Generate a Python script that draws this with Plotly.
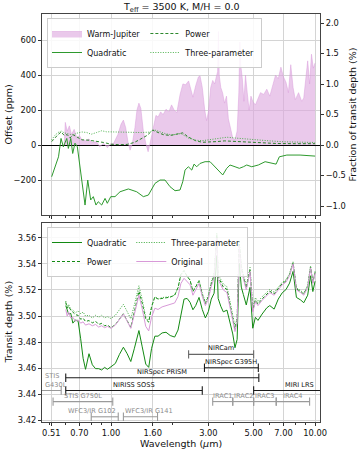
import math
import plotly.graph_objects as go

# ---------------- data ----------------
# top panel: Warm-Jupiter spectral signal (ppm)
WJ_WL = [0.590, 0.597, 0.610, 0.625, 0.640, 0.660, 0.680, 0.700, 0.720, 0.750, 0.780, 0.810,
         0.850, 0.880, 0.920, 0.960, 0.990, 1.030, 1.080, 1.120, 1.150, 1.180, 1.210, 1.240,
         1.270, 1.310, 1.340, 1.370, 1.400, 1.440, 1.480, 1.520, 1.560, 1.620, 1.660, 1.700,
         1.750, 1.800, 1.860, 1.920, 1.980, 2.040, 2.100, 2.180, 2.250, 2.320, 2.400, 2.460,
         2.520, 2.600, 2.680, 2.730, 2.800, 2.880, 2.940, 3.000, 3.080, 3.150, 3.220, 3.280,
         3.330, 3.360, 3.390, 3.450, 3.520, 3.600, 3.680, 3.760, 3.850, 3.950, 4.050, 4.150,
         4.230, 4.280, 4.330, 4.400, 4.480, 4.560, 4.650, 4.750, 4.850, 4.950, 5.100, 5.250,
         5.400, 5.600, 5.800, 6.000, 6.200, 6.400, 6.600, 6.800, 7.000, 7.200, 7.400, 7.600,
         7.800, 8.000, 8.300, 8.600, 8.800, 9.000, 9.200, 9.400, 9.600, 9.800, 10.00]
WJ_PPM = [0, 130, 80, 110, 60, 90, 40, 55, 30, 25, 35, 15,
          20, -10, 10, -15, 5, 10, 60, 120, 143, 100, 20, -29,
          5, 100, 200, 240, 210, 80, 10, -38, 20, 120, 170, 160,
          190, 175, 205, 190, 230, 200, 185, 290, 350, 345, 367, 320,
          274, 340, 390, 396, 330, 200, 140, 190, 330, 370, 350, 390,
          420, 650, 400, 330, 300, 240, 280, 150, 90, 40, 30, 80,
          300, 590, 450, 380, 250, 400, 300, 200, 280, 250, 230, 270,
          300, 290, 320, 280, 350, 400, 380, 446, 390, 360, 300, 460,
          330, 260, 300, 250, 270, 380, 482, 350, 520, 440, 470]

# top panel: offsets relative to the original transit depth (ppm)
QUAD_WL = [0.512, 0.553, 0.569, 0.584, 0.607, 0.618, 0.635, 0.649, 0.666, 0.684, 0.746, 0.769,
           0.795, 0.819, 0.844, 0.866, 0.900, 0.935, 0.959, 0.997, 1.046, 1.107, 1.216, 1.336,
           1.440, 1.524, 1.643, 1.738, 1.839, 1.946, 2.059, 2.178, 2.246, 2.306, 2.393, 2.487,
           2.552, 2.630, 2.730, 2.890, 3.057, 3.297, 3.528, 3.690, 3.830, 4.053, 4.254, 4.452,
           4.624, 4.894, 5.270, 5.690, 6.130, 6.440, 6.680, 7.270, 8.440, 10.00]
QUAD_OFF = [-181, -67, 38, -10, 38, -19, 38, -48, 11, -10, -343, -200,
            -314, -295, -343, -324, -343, -305, -333, -295, -295, -267, -251, -267,
            -295, -286, -219, -200, -200, -238, -261, -257, -210, -143, -124, -143,
            -109, -124, -105, -95, -95, -133, -171, -133, -114, -124, -133, -124,
            -114, -124, -114, -95, -105, -109, -67, -57, -57, -63]

POW_WL = [0.512, 0.53, 0.55, 0.57, 0.59, 0.61, 0.63, 0.65, 0.68, 0.72, 0.78, 0.85, 0.92, 1.0,
          1.1, 1.2, 1.3, 1.4, 1.5, 1.6, 1.7, 1.8, 1.95, 2.1, 2.25, 2.4, 2.6, 2.8, 3.0, 3.3,
          3.6, 3.9, 4.3, 4.8, 5.5, 6.5, 8.0, 10.0]
POW_OFF = [20, 40, 60, 75, 55, 60, 40, 60, 45, 30, 28, 22, 15, 5,
           2, 4, 15, 35, 55, 85, 70, 60, 55, 65, 70, 45, 25, 16, 17, 20,
           24, 22, 17, 13, 11, 9, 8, 8]

THREE_WL = [0.512, 0.53, 0.55, 0.57, 0.59, 0.62, 0.65, 0.68, 0.72, 0.76, 0.8, 0.85, 0.9, 0.95,
            1.0, 1.2, 1.4, 1.55, 1.62, 1.7, 1.85, 2.0, 2.2, 2.4, 2.6, 2.8, 3.0, 3.3, 3.7, 4.1,
            4.6, 5.2, 6.0, 7.0, 8.5, 10.0]
THREE_OFF = [30, 55, 72, 80, 70, 62, 58, 68, 75, 72, 62, 72, 82, 76,
             75, 74, 72, 74, 88, 80, 65, 58, 66, 40, 28, 25, 30, 38, 45, 40,
             34, 30, 24, 19, 16, 15]

# bottom panel: transit depth (%)
WL = [0.600, 0.610, 0.620, 0.635, 0.650, 0.670, 0.690, 0.710, 0.730, 0.750, 0.780, 0.810,
      0.840, 0.870, 0.900, 0.930, 0.960, 1.000, 1.050, 1.100, 1.150, 1.200, 1.250, 1.300,
      1.370, 1.420, 1.480, 1.530, 1.580, 1.640, 1.700, 1.780, 1.860, 1.950, 2.050, 2.130,
      2.200, 2.280, 2.360, 2.440, 2.520, 2.600, 2.700, 2.800, 2.900, 3.000, 3.100, 3.200,
      3.300, 3.350, 3.450, 3.550, 3.700, 3.850, 3.950, 4.050, 4.150, 4.250, 4.350, 4.450,
      4.600, 4.800, 4.950, 5.100, 5.250, 5.500, 5.800, 6.000, 6.300, 6.600, 6.900, 7.200,
      7.500, 7.800, 8.100, 8.500, 8.800, 9.200, 9.500, 9.750, 10.00]
ORIGINAL = [3.5050, 3.5000, 3.5030, 3.4985, 3.4990, 3.4960, 3.4970, 3.4945, 3.4955, 3.4930, 3.4940, 3.4925,
            3.4935, 3.4915, 3.4925, 3.4910, 3.4920, 3.4905, 3.4930, 3.4975, 3.5015, 3.4960, 3.4905, 3.5010,
            3.5160, 3.5060, 3.4920, 3.4885, 3.4990, 3.5060, 3.5050, 3.5070, 3.5080, 3.5090, 3.5100, 3.5150,
            3.5250, 3.5290, 3.5260, 3.5240, 3.5160, 3.5200, 3.5250, 3.5150, 3.5080, 3.5130, 3.5230, 3.5290,
            3.5600, 3.5280, 3.5240, 3.5200, 3.5180, 3.5050, 3.4980, 3.4880, 3.4950, 3.5540, 3.5350, 3.5290,
            3.5200, 3.5340, 3.5030, 3.5110, 3.5080, 3.5120, 3.5160, 3.5180, 3.5160, 3.5200, 3.5240, 3.5260,
            3.5310, 3.5400, 3.5200, 3.5180, 3.5160, 3.5220, 3.5370, 3.5250, 3.5330]
POWER = [3.5105, 3.5060, 3.5075, 3.5045, 3.5030, 3.5010, 3.5005, 3.4975, 3.4983, 3.4958, 3.4965, 3.4947,
         3.4960, 3.4935, 3.4943, 3.4925, 3.4930, 3.4910, 3.4933, 3.4977, 3.5017, 3.4964, 3.4913, 3.5028,
         3.5190, 3.5102, 3.4975, 3.4953, 3.5070, 3.5148, 3.5130, 3.5135, 3.5138, 3.5145, 3.5160, 3.5218,
         3.5320, 3.5350, 3.5305, 3.5275, 3.5188, 3.5222, 3.5268, 3.5166, 3.5095, 3.5146, 3.5247, 3.5308,
         3.5619, 3.5300, 3.5262, 3.5223, 3.5204, 3.5073, 3.5002, 3.4900, 3.4969, 3.5558, 3.5367, 3.5306,
         3.5215, 3.5354, 3.5043, 3.5122, 3.5092, 3.5131, 3.5171, 3.5190, 3.5170, 3.5210, 3.5249, 3.5269,
         3.5319, 3.5409, 3.5208, 3.5188, 3.5168, 3.5228, 3.5378, 3.5258, 3.5338]
THREE_PARAM = [3.5115, 3.5068, 3.5090, 3.5047, 3.5045, 3.5025, 3.5040, 3.5017, 3.5030, 3.5000, 3.5005, 3.4985,
               3.5005, 3.4990, 3.5005, 3.4985, 3.4995, 3.4980, 3.5005, 3.5050, 3.5090, 3.5034, 3.4978, 3.5082,
               3.5232, 3.5131, 3.4990, 3.4957, 3.5070, 3.5145, 3.5130, 3.5142, 3.5145, 3.5148, 3.5160, 3.5215,
               3.5316, 3.5345, 3.5305, 3.5278, 3.5192, 3.5228, 3.5275, 3.5175, 3.5107, 3.5160, 3.5263, 3.5326,
               3.5638, 3.5320, 3.5283, 3.5245, 3.5225, 3.5094, 3.5022, 3.4920, 3.4988, 3.5577, 3.5386, 3.5325,
               3.5234, 3.5373, 3.5062, 3.5141, 3.5110, 3.5148, 3.5186, 3.5204, 3.5182, 3.5220, 3.5259, 3.5278,
               3.5327, 3.5416, 3.5216, 3.5195, 3.5175, 3.5235, 3.5385, 3.5265, 3.5345]
QUADRATIC = [3.5080, 3.5038, 3.5015, 3.5020, 3.4945, 3.4970, 3.4960, 3.4825, 3.4675, 3.4590, 3.4710, 3.4625,
             3.4595, 3.4595, 3.4585, 3.4605, 3.4590, 3.4610, 3.4635, 3.4705, 3.4760, 3.4710, 3.4650, 3.4748,
             3.4888, 3.4768, 3.4630, 3.4605, 3.4750, 3.4845, 3.4845, 3.4870, 3.4875, 3.4850, 3.4838, 3.4892,
             3.5005, 3.5130, 3.5135, 3.5105, 3.5048, 3.5080, 3.5143, 3.5050, 3.4985, 3.5035, 3.5130, 3.5175,
             3.5465, 3.5135, 3.5075, 3.5032, 3.5045, 3.4936, 3.4862, 3.4756, 3.4820, 3.5407, 3.5222, 3.5166,
             3.5085, 3.5220, 3.4906, 3.4990, 3.4966, 3.5015, 3.5063, 3.5080, 3.5053, 3.5130, 3.5178, 3.5203,
             3.5253, 3.5343, 3.5143, 3.5123, 3.5102, 3.5160, 3.5309, 3.5188, 3.5267]

# instrument coverage (µm) and the row (transit depth %) where each bar sits
INST_NAMES = ["NIRCam", "NIRSpec G395H", "NIRSpec PRISM", "NIRISS SOSS", "MIRI LRS",
              "STIS<br>G430L", "STIS G750L", "IRAC1", "IRAC2", "IRAC3", "IRAC4",
              "WFC3/IR G102", "WFC3/IR G141"]
INST_LO = [2.4, 2.87, 0.6, 0.6, 5.0, 0.29, 0.52, 3.15, 3.95, 5.0, 6.45, 0.80, 1.15]
INST_HI = [5.0, 5.27, 5.3, 2.8, 14.0, 0.57, 1.02, 3.95, 5.0, 6.45, 9.4, 1.085, 1.69]
INST_ROW = [3.4705, 3.4602, 3.4525, 3.4427, 3.4427, 3.4427, 3.4342, 3.4342, 3.4342, 3.4342, 3.4342,
            3.4225, 3.4225]
INST_JWST = [True, True, True, True, True, False, False, False, False, False, False, False, False]

XTICKS = [0.51, 0.70, 1.00, 1.60, 3.00, 5.00, 7.00, 10.00]
XMINOR = [0.5, 0.6, 0.8, 0.9, 2, 4, 6, 8, 9]
DEPTH_PPM = 34900  # original transit depth, for the right-hand axis

FONT = "DejaVu Sans"
GREEN = "#138a13"
GREEN_LIGHT = "#3caa3c"
PINK = "#d89ad8"
GRID = "#d4d4d4"

# plot box in pixels (figure is 360 x 451)
L, R, T, B = 42, 40, 14, 29
PW, PH = 360 - L - R, 451 - T - B


def px_x(px):
    return (px - L) / PW


def px_y(py):
    return (451 - B - py) / PH


fig = go.Figure()

# ---- top panel ----
fig.add_trace(go.Scatter(x=WJ_WL, y=WJ_PPM, mode="lines", name="Warm-Jupiter",
                         line=dict(color="rgba(214,150,216,0.75)", width=0.6),
                         fill="tozeroy", fillcolor="rgba(220,165,222,0.6)",
                         legend="legend", legendgroup="tA", xaxis="x", yaxis="y"))
fig.add_trace(go.Scatter(x=QUAD_WL, y=QUAD_OFF, mode="lines", name="Quadratic",
                         line=dict(color="#2e9a2e", width=1),
                         legend="legend", legendgroup="tA", xaxis="x", yaxis="y"))
fig.add_trace(go.Scatter(x=POW_WL, y=POW_OFF, mode="lines", name="Power",
                         line=dict(color="#157a15", width=0.9, dash="3px,2px"),
                         legend="legend", legendgroup="tB", xaxis="x", yaxis="y"))
fig.add_trace(go.Scatter(x=THREE_WL, y=THREE_OFF, mode="lines", name="Three-parameter",
                         line=dict(color=GREEN_LIGHT, width=0.9, dash="1px,1.5px"),
                         legend="legend", legendgroup="tB", xaxis="x", yaxis="y"))
# the right-hand axis is the same offset expressed as a fraction of the depth;
# an invisible copy on y2 makes plotly draw that axis
fig.add_trace(go.Scatter(x=QUAD_WL, y=[v / DEPTH_PPM * 100 for v in QUAD_OFF], mode="lines",
                         line=dict(width=0), opacity=0, showlegend=False, hoverinfo="skip",
                         xaxis="x", yaxis="y2"))

# ---- bottom panel ----
fig.add_trace(go.Scatter(x=WL, y=QUADRATIC, mode="lines", name="Quadratic",
                         line=dict(color=GREEN, width=1),
                         legend="legend2", legendgroup="bA", xaxis="x2", yaxis="y3"))
fig.add_trace(go.Scatter(x=WL, y=POWER, mode="lines", name="Power",
                         line=dict(color=GREEN, width=1, dash="3px,2px"),
                         legend="legend2", legendgroup="bA", xaxis="x2", yaxis="y3"))
fig.add_trace(go.Scatter(x=WL, y=THREE_PARAM, mode="lines", name="Three-parameter",
                         line=dict(color=GREEN_LIGHT, width=1, dash="1px,1.5px"),
                         legend="legend2", legendgroup="bB", xaxis="x2", yaxis="y3"))
fig.add_trace(go.Scatter(x=WL, y=ORIGINAL, mode="lines", name="Original",
                         line=dict(color=PINK, width=1),
                         legend="legend2", legendgroup="bB", xaxis="x2", yaxis="y3"))

# instrument coverage bars with end caps
annotations = []
for name, lo, hi, row, jwst in zip(INST_NAMES, INST_LO, INST_HI, INST_ROW, INST_JWST):
    if name == "NIRCam":
        bar_col, txt_col = "#666666", "#111111"
    elif jwst:
        bar_col, txt_col = "#1a1a1a", "#111111"
    else:
        bar_col, txt_col = "#9a9a9a", "#8c8c8c"
    fig.add_trace(go.Scatter(x=[lo, hi], y=[row, row], mode="lines+markers",
                             line=dict(color=bar_col, width=1.1),
                             marker=dict(symbol="line-ns", size=6,
                                         line=dict(color=bar_col, width=1.1)),
                             showlegend=False, hoverinfo="skip", xaxis="x2", yaxis="y3"))
    xa, anchor = (math.log10(lo) + math.log10(hi)) / 2, "center"
    if name.startswith("STIS<br>"):
        xa, anchor = math.log10(0.463), "left"
    elif name == "WFC3/IR G102":
        xa, anchor = math.log10(hi), "right"
    elif name == "WFC3/IR G141":
        xa, anchor = math.log10(lo), "left"
    annotations.append(dict(x=xa, y=row, xref="x2", yref="y3", text=name, showarrow=False,
                            xanchor=anchor, yanchor="bottom", yshift=0, align="left",
                            font=dict(family=FONT, size=6.6, color=txt_col)))

title_font = dict(family=FONT, size=9.5, color="#111")
label = dict(xref="paper", yref="paper", showarrow=False, xanchor="center", yanchor="middle",
             font=title_font)
annotations += [
    dict(label, x=0.5, y=px_y(7.5), text="T<sub>eff</sub> = 3500 K, M/H = 0.0"),
    dict(label, x=px_x(8), y=px_y(114.5), text="Offset (ppm)", textangle=-90),
    dict(label, x=px_x(352), y=px_y(114.5), text="Fraction of transit depth (%)", textangle=-90),
    dict(label, x=px_x(8), y=px_y(322.5), text="Transit depth (%)", textangle=-90),
    dict(label, x=0.5, y=px_y(443.5), text="Wavelength (<i>μ</i>m)"),
]

xr = [math.log10(0.459), math.log10(10.57)]
xcommon = dict(type="log", range=xr, tickmode="array", tickvals=XTICKS,
               ticktext=[f"{v:.2f}" for v in XTICKS], ticks="outside", ticklen=3,
               tickcolor="#333", showgrid=True, gridcolor=GRID, gridwidth=1,
               showline=True, linecolor="#444", linewidth=1, mirror=True, zeroline=False,
               automargin=False,
               minor=dict(tickmode="array", tickvals=XMINOR, ticks="outside", ticklen=1.8,
                          tickcolor="#333", showgrid=False),
               tickfont=dict(family=FONT, size=8.3, color="#111"))
ycommon = dict(ticks="outside", ticklen=3, tickcolor="#333", showgrid=True, gridcolor=GRID,
               showline=True, linecolor="#444", linewidth=1, mirror=True, automargin=False,
               tickfont=dict(family=FONT, size=8.3, color="#111"))

legend_style = dict(orientation="h", traceorder="grouped", xanchor="left", yanchor="top",
                    bgcolor="rgba(255,255,255,0.85)", bordercolor="#cccccc", borderwidth=1,
                    font=dict(family=FONT, size=8, color="#111"), itemwidth=30,
                    tracegroupgap=0)

fig.update_layout(
    width=360, height=451,
    margin=dict(l=L, r=R, t=T, b=B),
    paper_bgcolor="white", plot_bgcolor="white",
    font=dict(family=FONT, size=9, color="#111"),
    xaxis=dict(xcommon, domain=[0, 1], anchor="y", matches="x2", showticklabels=False),
    xaxis2=dict(xcommon, domain=[0, 1], anchor="y3"),
    yaxis=dict(ycommon, domain=[px_y(215), 1], anchor="x", range=[-400, 750],
               tickvals=[-200, 0, 200, 400, 600], ticktext=["−200", "0", "200", "400", "600"],
               zeroline=True, zerolinecolor="black", zerolinewidth=1.4),
    yaxis2=dict(ycommon, overlaying="y", side="right", anchor="x",
                range=[-400 / DEPTH_PPM * 100, 750 / DEPTH_PPM * 100],
                tickvals=[-1.0, -0.5, 0.0, 0.5, 1.0, 1.5, 2.0],
                ticktext=["−1.0", "−0.5", "0.0", "0.5", "1.0", "1.5", "2.0"],
                showgrid=False, zeroline=False, mirror=False),
    yaxis3=dict(ycommon, domain=[0, px_y(223)], anchor="x2", range=[3.4185, 3.5715],
                tickvals=[3.42, 3.44, 3.46, 3.48, 3.50, 3.52, 3.54, 3.56], tickformat=".2f",
                zeroline=False),
    legend=dict(legend_style, x=px_x(47), y=px_y(18)),
    legend2=dict(legend_style, x=px_x(47), y=px_y(227)),
    annotations=annotations,
    showlegend=True,
)

# the page body has a default 8px margin that would shift the 360x451 figure
fig.write_html("out.html", config={"displayModeBar": False},
               post_script="document.body.style.margin='0';")
